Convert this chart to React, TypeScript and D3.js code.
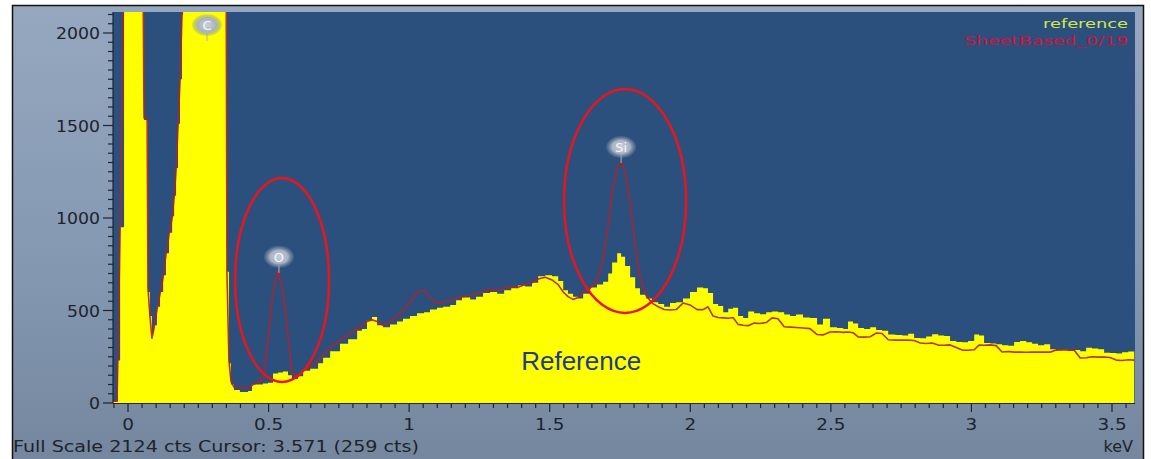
import React from "react";
import * as d3 from "d3";

// Energy grid (keV) shared by both spectra
const energyKeV = [
  -0.053, -0.039, -0.036, -0.028, -0.014, 0.053, 0.057, 0.068, 0.071, 0.078,
  0.085, 0.092, 0.103, 0.114, 0.125, 0.135, 0.146, 0.157, 0.164, 0.171,
  0.178, 0.185, 0.192, 0.196, 0.349, 0.352, 0.359, 0.366, 0.377, 0.398,
  0.427, 0.441, 0.48, 0.498, 0.516, 0.534, 0.551, 0.569, 0.583, 0.605,
  0.623, 0.648, 0.676, 0.694, 0.719, 0.754, 0.783, 0.815, 0.832, 0.85,
  0.868, 0.886, 0.907, 0.932, 0.957, 0.978, 1.003, 1.028, 1.053, 1.074,
  1.099, 1.121, 1.146, 1.167, 1.188, 1.217, 1.238, 1.263, 1.288, 1.313,
  1.338, 1.363, 1.387, 1.412, 1.437, 1.459, 1.484, 1.508, 1.53, 1.548,
  1.565, 1.583, 1.601, 1.619, 1.644, 1.668, 1.69, 1.708, 1.722, 1.74,
  1.754, 1.768, 1.786, 1.804, 1.821, 1.843, 1.864, 1.886, 1.907, 1.928,
  1.95, 1.974, 1.999, 2.024, 2.046, 2.063, 2.081, 2.099, 2.117, 2.135,
  2.152, 2.17, 2.188, 2.206, 2.227, 2.248, 2.27, 2.291, 2.312, 2.334,
  2.355, 2.376, 2.401, 2.426, 2.451, 2.472, 2.497, 2.522, 2.544, 2.561,
  2.579, 2.597, 2.618, 2.64, 2.661, 2.682, 2.704, 2.729, 2.754, 2.775,
  2.796, 2.818, 2.839, 2.86, 2.882, 2.903, 2.924, 2.946, 2.967, 2.988,
  3.01, 3.027, 3.045, 3.067, 3.088, 3.109, 3.131, 3.152, 3.173, 3.195,
  3.216, 3.237, 3.259, 3.28, 3.301, 3.323, 3.344, 3.365, 3.387, 3.408,
  3.429, 3.451, 3.472, 3.493, 3.515, 3.536, 3.558, 3.579,
];

// Yellow "reference" spectrum (counts)
const referenceCounts = [
  10, 10, 230, 950, 2400, 2400, 1530, 1520, 600, 470,
  380, 420, 520, 600, 690, 810, 920, 1010, 1120, 1270,
  1510, 1750, 2100, 2400, 2400, 710, 215, 100, 70, 60,
  65, 100, 105, 110, 160, 165, 170, 150, 130, 145,
  175, 185, 215, 245, 280, 320, 345, 390, 400, 445,
  465, 420, 410, 425, 440, 455, 470, 485, 490, 505,
  515, 520, 530, 555, 570, 560, 575, 595, 600, 590,
  610, 620, 635, 630, 650, 685, 690, 685, 660, 610,
  590, 575, 565, 590, 625, 640, 655, 700, 760, 810,
  790, 740, 680, 620, 585, 565, 545, 535, 520, 540,
  545, 565, 600, 625, 620, 595, 535, 525, 490, 510,
  515, 470, 460, 495, 485, 480, 490, 495, 490, 478,
  470, 478, 462, 460, 425, 455, 410, 405, 400, 440,
  430, 405, 400, 410, 395, 390, 370, 368, 365, 375,
  352, 350, 360, 372, 365, 362, 335, 330, 328, 335,
  370, 365, 325, 322, 318, 312, 310, 330, 335, 328,
  320, 312, 318, 290, 285, 288, 283, 286, 280, 298,
  295, 290, 272, 270, 268, 275, 278, 272,
];

// Red sample spectrum (counts)
const sampleCounts = [
  10, 10, 240, 960, 2400, 2400, 1540, 1540, 620, 470,
  350, 400, 505, 590, 680, 800, 910, 1000, 1110, 1260,
  1500, 1740, 2090, 2400, 2400, 700, 230, 120, 85, 80,
  85, 95, 130, 340, 610, 715, 610, 360, 160, 145,
  175, 195, 230, 260, 300, 340, 370, 400, 420, 440,
  450, 440, 420, 440, 470, 500, 545, 600, 610, 570,
  540, 545, 555, 565, 575, 580, 590, 600, 615, 610,
  620, 630, 625, 640, 650, 670, 680, 665, 640, 600,
  575, 560, 570, 600, 620, 660, 780, 960, 1150, 1270,
  1305, 1250, 1080, 850, 680, 580, 540, 520, 505, 503,
  505, 540, 530, 505, 505, 520, 470, 462, 460, 458,
  462, 425, 420, 418, 432, 430, 435, 460, 455, 412,
  410, 408, 405, 402, 370, 368, 384, 385, 382, 384,
  380, 357, 356, 358, 378, 376, 342, 340, 340, 340,
  338, 324, 322, 324, 313, 312, 314, 300, 286, 285,
  288, 313, 312, 314, 310, 276, 278, 275, 275, 274,
  276, 275, 276, 275, 286, 288, 285, 286, 243, 245,
  250, 248, 249, 246, 232, 230, 234, 232,
];

const yTickLabels = [0, 500, 1000, 1500, 2000];
const xTickLabels = [0, 0.5, 1, 1.5, 2, 2.5, 3, 3.5];

const peakNames = ["C", "O", "Si"];
const peakLabelKeV = [0.281, 0.537, 1.754];
const peakLabelCounts = [2043, 790, 1384];

// Highlight ellipses (data units): centre keV, centre counts, half-width keV, half-height counts
const ellipseKeV = [0.548, 1.768];
const ellipseCounts = [665, 1092];
const ellipseHalfKeV = [0.167, 0.217];
const ellipseHalfCounts = [551, 605];

const legendNames = ["reference", "SheetBased_0/19"];
const footerText = "Full Scale 2124 cts Cursor: 3.571  (259 cts)";

const W = 1151;
const H = 459;
const plot = { left: 113, right: 1135, top: 12, bottom: 403 };

export default function App() {
  const x = d3.scaleLinear().domain([0, 3.5]).range([128, 1112]);
  const y = d3.scaleLinear().domain([0, 2000]).range([403, 33]);

  const refData = energyKeV.map((k, i) => ({ k, c: referenceCounts[i] }));
  const smpData = energyKeV.map((k, i) => ({ k, c: sampleCounts[i] }));

  const area = d3
    .area<{ k: number; c: number }>()
    .x((d) => x(d.k))
    .y0(y(0))
    .y1((d) => y(d.c))
    .curve(d3.curveStepAfter);
  const line = d3
    .line<{ k: number; c: number }>()
    .x((d) => x(d.k))
    .y((d) => y(d.c))
    .curve(d3.curveLinear);

  const yMinor = d3.range(0, 2101, 50);
  const xMinor = d3.range(-1, 72).map((i) => i * 0.05);

  const font = "'DejaVu Sans', Verdana, sans-serif";

  return (
    <svg
      width={W}
      height={H}
      style={{ position: "fixed", left: 0, top: 0 }}
      xmlns="http://www.w3.org/2000/svg"
    >
      <defs>
        <linearGradient id="bg" x1="0" y1="0" x2="0" y2="1">
          <stop offset="0" stopColor="#95a8c0" />
          <stop offset="0.6" stopColor="#8497b0" />
          <stop offset="1" stopColor="#74879f" />
        </linearGradient>
        <radialGradient id="badge" cx="0.5" cy="0.5" r="0.5">
          <stop offset="0" stopColor="#c9ced8" />
          <stop offset="0.6" stopColor="#aab3c2" />
          <stop offset="1" stopColor="#7f90aa" stopOpacity="0.2" />
        </radialGradient>
        <clipPath id="plotClip">
          <rect
            x={plot.left}
            y={plot.top}
            width={plot.right - plot.left}
            height={plot.bottom - plot.top}
          />
        </clipPath>
      </defs>

      <rect x={0} y={0} width={W} height={H} fill="#ffffff" />
      <rect x={12} y={5} width={1132} height={454} fill="url(#bg)" />

      {/* plot background */}
      <rect
        x={plot.left}
        y={plot.top}
        width={plot.right - plot.left}
        height={plot.bottom - plot.top}
        fill="#2c507e"
      />

      <g clipPath="url(#plotClip)">
        <path d={area(refData) || ""} fill="#ffff00" />
        <path
          d={line(smpData) || ""}
          fill="none"
          stroke="#b0232d"
          strokeWidth={1.6}
          strokeOpacity={0.92}
          strokeLinejoin="round"
        />
      </g>

      {/* y axis ticks */}
      <g stroke="#1e2530" strokeWidth={1.2}>
        {yMinor.map((v) => (
          <line
            key={"ym" + v}
            x1={v % 500 === 0 ? 103 : 108}
            x2={plot.left}
            y1={y(v)}
            y2={y(v)}
          />
        ))}
        <line x1={plot.left} x2={plot.left} y1={plot.top} y2={plot.bottom} />
      </g>
      {yTickLabels.map((v) => (
        <text
          key={"yl" + v}
          transform={`translate(100,${y(v) + 6}) scale(1.08,1)`}
          textAnchor="end"
          fontFamily={font}
          fontSize={16}
          fill="#1e232b"
        >
          {v}
        </text>
      ))}

      {/* x axis ticks */}
      <g stroke="#1e2530" strokeWidth={1.2}>
        <line x1={plot.left} x2={plot.right} y1={plot.bottom + 0.5} y2={plot.bottom + 0.5} />
        {xMinor.map((v, i) => (
          <line
            key={"xm" + i}
            x1={x(v)}
            x2={x(v)}
            y1={plot.bottom}
            y2={i % 10 === 1 ? plot.bottom + 9 : plot.bottom + 5}
          />
        ))}
      </g>
      {xTickLabels.map((v) => (
        <text
          key={"xl" + v}
          transform={`translate(${x(v)},430) scale(1.15,1)`}
          textAnchor="middle"
          fontFamily={font}
          fontSize={16}
          fill="#1e232b"
        >
          {v}
        </text>
      ))}

      {/* footer */}
      <text
        x={13}
        y={452}
        fontFamily={font}
        fontSize={16}
        fill="#1e232b"
        textLength={406}
        lengthAdjust="spacingAndGlyphs"
      >
        {footerText}
      </text>
      <text
        x={1133}
        y={452}
        textAnchor="end"
        fontFamily={font}
        fontSize={16}
        fill="#1e232b"
      >
        keV
      </text>

      {/* legend */}
      <text
        x={1043}
        y={28}
        fontFamily={font}
        fontSize={13}
        fill="#d4e64a"
        textLength={85}
        lengthAdjust="spacingAndGlyphs"
      >
        {legendNames[0]}
      </text>
      <text
        x={964}
        y={45}
        fontFamily={font}
        fontSize={13}
        fill="#cc1438"
        textLength={164}
        lengthAdjust="spacingAndGlyphs"
      >
        {legendNames[1]}
      </text>

      {/* peak badges */}
      {peakNames.map((n, i) => {
        const cx = x(peakLabelKeV[i]);
        const cy = y(peakLabelCounts[i]);
        return (
          <g key={"pk" + n}>
            <line x1={cx} x2={cx} y1={cy + 8} y2={cy + 16} stroke="#a8b2c2" strokeWidth={1} />
            <ellipse cx={cx} cy={cy} rx={15} ry={11} fill="url(#badge)" />
            <text
              x={cx}
              y={cy + 5}
              textAnchor="middle"
              fontFamily={font}
              fontSize={13}
              fill="#f4f6fa"
            >
              {n}
            </text>
          </g>
        );
      })}

      {/* highlight ellipses */}
      {ellipseKeV.map((k, i) => {
        const cx = x(k);
        const cy = y(ellipseCounts[i]);
        const rx = x(k + ellipseHalfKeV[i]) - cx;
        const ry = cy - y(ellipseCounts[i] + ellipseHalfCounts[i]);
        return (
          <ellipse
            key={"el" + i}
            cx={cx}
            cy={cy}
            rx={rx}
            ry={ry}
            fill="none"
            stroke="#e8151d"
            strokeWidth={2.5}
          />
        );
      })}

      <text
        x={x(1.612)}
        y={y(178)}
        textAnchor="middle"
        fontFamily="'Liberation Sans', Arial, sans-serif"
        fontSize={26}
        fill="#1d3c8c"
      >
        Reference
      </text>

      {/* outer frame */}
      <rect x={12.5} y={5.5} width={1131} height={460} fill="none" stroke="#111" strokeWidth={1.5} />
    </svg>
  );
}
